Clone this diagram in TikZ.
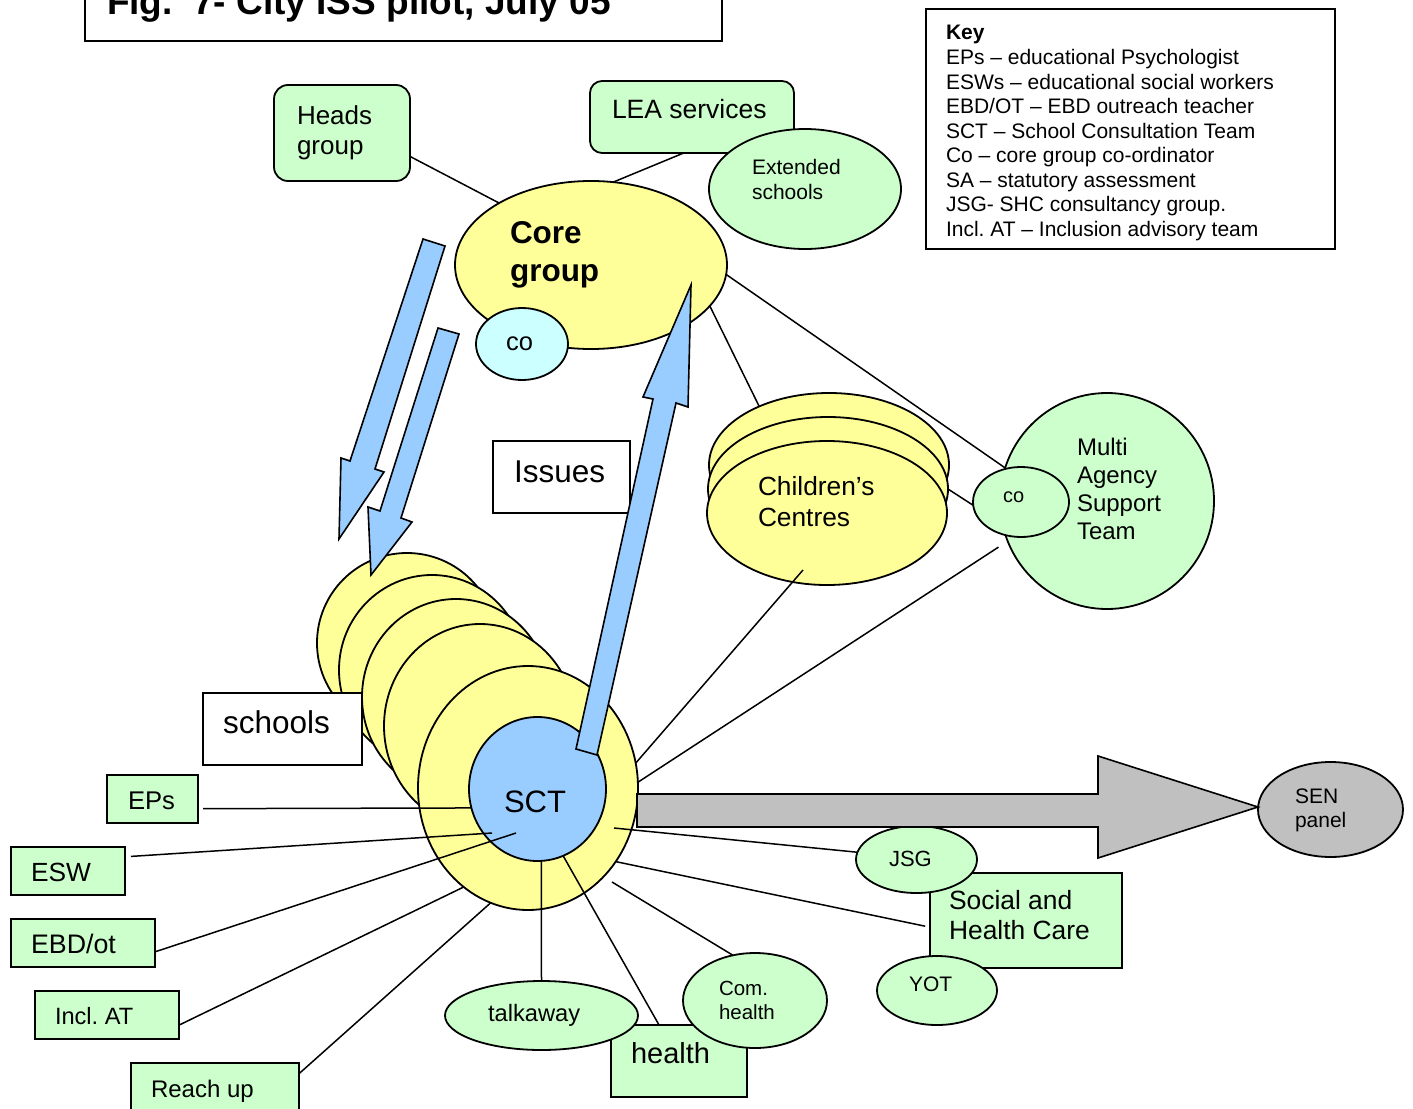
\documentclass[tikz,border=0pt]{standalone}
\usepackage{fontspec}
\setmainfont{Liberation Sans}
\usetikzlibrary{shapes.geometric,calc}

\definecolor{paleyellow}{HTML}{FFFF99}
\definecolor{palegreen}{HTML}{CCFFCC}
\definecolor{paleblue}{HTML}{99CCFF}
\definecolor{palecyan}{HTML}{CCFFFF}
\definecolor{midgray}{HTML}{C0C0C0}

\newcommand\fsz[1]{\fontsize{#1}{#1}\selectfont}
\frenchspacing

\begin{document}
\begin{tikzpicture}[x=1pt,y=-1pt,
  shp/.style={draw=black,line width=1.8pt,inner sep=0pt,outer sep=0pt},
  sz/.style 2 args={minimum width=#1pt,minimum height=#2pt},
  rbox/.style={shp,rectangle,fill=#1},
  rbox/.default=white,
  oval/.style={shp,ellipse,fill=#1},
  lbl/.style={anchor=base west,inner sep=0pt,outer sep=0pt},
  link/.style={line width=1.5pt},
  blockarrow/.style={draw=black,line width=1.6pt,line join=miter,fill=#1}
]
\useasboundingbox (0,0) rectangle (1413,1108);
\clip (0,0) rectangle (1413,1108);

% title and key
\node[shp,rectangle,sz={637}{61}] (titlebox) at (403.5,10.5) {};
\node[rbox,sz={409}{240}] (keybox) at (1130.5,129) {};

% top groups
\node[rbox=palegreen,rounded corners=14pt,sz={136}{96}] (heads) at (342,133) {};
\node[rbox=palegreen,rounded corners=12pt,sz={204}{72}] (lea) at (692,117) {};
\node[oval=palegreen,sz={192}{120}] (ext) at (805,189) {};
\node[oval=paleyellow,sz={272}{168}] (core) at (591,265) {};
\node[oval=palecyan,sz={92}{72}] (coreco) at (522,344) {};

% children's centres and multi agency team
\node[oval=paleyellow,sz={240}{144}] (ccback) at (829,465) {};
\node[oval=paleyellow,sz={240}{144}] (ccmid) at (828,489) {};
\node[oval=paleyellow,sz={240}{144}] (cc) at (827,513) {};
\node[oval=palegreen,sz={214}{216}] (mast) at (1107,501) {};
\node[oval=palegreen,sz={96}{70}] (mastco) at (1021,502) {};

\node[rbox,sz={137}{72}] (issues) at (561.5,477) {};

% stack of schools around the consultation team
\node[oval=paleyellow,sz={180}{180}] (sch1) at (407,643) {};
\node[oval=paleyellow,sz={186}{190}] (sch2) at (432,670) {};
\node[oval=paleyellow,sz={188}{196}] (sch3) at (456,697) {};
\node[oval=paleyellow,sz={192}{204}] (sch4) at (480,726) {};
\node[oval=paleyellow,sz={220}{244}] (sch5) at (528,788) {};
\node[oval=paleblue,sz={137}{144}] (sct) at (537.5,789) {};
\node[rbox,sz={159}{72}] (schools) at (282.5,729) {};

% services on the left
\node[rbox=palegreen,sz={91}{48}] (eps) at (152.5,799) {};
\node[rbox=palegreen,sz={114}{48}] (esw) at (68,871) {};
\node[rbox=palegreen,sz={144}{48}] (ebd) at (83,943) {};
\node[rbox=palegreen,sz={144}{48}] (incl) at (107,1015) {};
\node[rbox=palegreen,sz={168}{48}] (reach) at (215,1087) {};

% services below and to the right
\node[rbox=palegreen,sz={192}{95}] (shc) at (1026,920.5) {};
\node[oval=palegreen,sz={121}{67}] (jsg) at (916.5,859.5) {};
\node[oval=palegreen,sz={120}{69}] (yot) at (937,990.5) {};
\node[rbox=palegreen,sz={136}{72}] (health) at (679,1061) {};
\node[oval=palegreen,sz={193}{69}] (talk) at (541.5,1015.5) {};
\node[oval=palegreen,sz={144}{95}] (comh) at (755,1000.5) {};
\node[oval=midgray,sz={145}{95}] (sen) at (1330.5,809.5) {};

% free ends of links inside shapes
\coordinate (sct-esw) at (492,833);
\coordinate (sct-ebd) at (516,833);
\coordinate (cc-in) at (803,570);
\coordinate (sch-jsg) at (614,828);
\coordinate (sch-comh) at (612,882);

% links
\draw[link] (heads.-19.4) -- (core.146.6);
\draw[link] (lea.-103) -- (core.75);
\draw[link] (core.-4) -- (mast.162);
\draw[link] (core.-19.7) -- (ccback.140);
\draw[link] (cc-in) -- (sch5.13.5);
\draw[link,shorten <=11pt] (mast.202) -- (sch5.3);
\draw[link] (ccmid.0) -- (mastco.184);
\draw[link,shorten <=5pt] (eps.-12) -- (sct.196);
\draw[link,shorten <=6pt] (esw.14) -- (sct-esw);
\draw[link] (ebd.-7) -- (sct-ebd);
\draw[link] (incl.-8) -- (sch5.237);
\draw[link] (reach.9.5) -- (sch5.252.6);
\draw[link] (sct.-87) -- (talk.north);
\draw[link] (sct.-69) -- (health.119);
\draw[link] (sch-comh) -- (comh.116);
\draw[link,shorten >=5pt] (sch5.-40) -- (shc.184);
\draw[link] (sch-jsg) -- (jsg.173);

% block arrows
\draw[blockarrow=paleblue] (423,239) -- (445,246) -- (375,469) -- (384,472)
  -- (339,539) -- (341,458) -- (350,461) -- cycle;
\draw[blockarrow=paleblue] (438,328) -- (459,334) -- (401,518) -- (412,522)
  -- (371,575) -- (368,507) -- (380,511) -- cycle;
\draw[blockarrow=paleblue] (576,749) -- (597,755) -- (676,403) -- (688,407)
  -- (691,285) -- (643,397) -- (653,399) -- cycle;
\draw[blockarrow=midgray] (637,794) -- (1098,794) -- (1098,756) -- (1258,807)
  -- (1098,858) -- (1098,827) -- (637,827) -- cycle;

% texts
\node[lbl,font=\bfseries\fsz{37}] (titleT) at (107,15) {Fig.\ \ 7- City ISS pilot, July 05};
\node[lbl,font=\bfseries\fsz{21}] (key0) at (946,40) {Key};
\foreach \t [count=\i] in {EPs – educational Psychologist,
  ESWs – educational social workers, EBD/OT – EBD outreach teacher,
  SCT – School Consultation Team, Co – core group co-ordinator,
  SA – statutory assessment, JSG- SHC consultancy group.,
  Incl. AT – Inclusion advisory team}
  \node[lbl,font=\fsz{21}] (key\i) at (946,{40+24.5*\i}) {\t};

\node[lbl,font=\fsz{26}] (headsA) at (297,124) {Heads};
\node[lbl,font=\fsz{26}] (headsB) at (297,154) {group};
\node[lbl,font=\fsz{26.5}] (leaT) at (612,118) {LEA services};
\node[lbl,font=\fsz{21}] (extA) at (752,174) {Extended};
\node[lbl,font=\fsz{21}] (extB) at (752,199) {schools};
\node[lbl,font=\bfseries\fsz{31.5}] (coreA) at (510,243) {Core};
\node[lbl,font=\bfseries\fsz{31.5}] (coreB) at (510,281) {group};
\node[lbl,font=\fsz{25.5}] (corecoT) at (506,350) {co};
\node[lbl,font=\fsz{31.5}] (issuesT) at (514,482) {Issues};
\node[lbl,font=\fsz{26.3}] (ccA) at (758,495) {Children’s};
\node[lbl,font=\fsz{26.3}] (ccB) at (758,526) {Centres};
\node[lbl,font=\fsz{24}] (mastA) at (1077,455) {Multi};
\node[lbl,font=\fsz{24}] (mastB) at (1077,483) {Agency};
\node[lbl,font=\fsz{24}] (mastC) at (1077,511) {Support};
\node[lbl,font=\fsz{24}] (mastD) at (1077,539) {Team};
\node[lbl,font=\fsz{20}] (mastcoT) at (1003,502) {co};
\node[lbl,font=\fsz{31.5}] (schoolsT) at (223,733) {schools};
\node[lbl,font=\fsz{31}] (sctT) at (504,812) {SCT};
\node[lbl,font=\fsz{25.6}] (epsT) at (128,809) {EPs};
\node[lbl,font=\fsz{26.3}] (eswT) at (31,881) {ESW};
\node[lbl,font=\fsz{26.8}] (ebdT) at (31,953) {EBD/ot};
\node[lbl,font=\fsz{23.6}] (inclT) at (55,1024) {Incl. AT};
\node[lbl,font=\fsz{24}] (reachT) at (151,1097) {Reach up};
\node[lbl,font=\fsz{23.7}] (talkT) at (488,1021) {talkaway};
\node[lbl,font=\fsz{29}] (healthT) at (631,1063) {health};
\node[lbl,font=\fsz{20.5}] (comhA) at (719,995) {Com.};
\node[lbl,font=\fsz{20.5}] (comhB) at (719,1019) {health};
\node[lbl,font=\fsz{22}] (jsgT) at (889,866) {JSG};
\node[lbl,font=\fsz{26.4}] (shcA) at (949,909) {Social and};
\node[lbl,font=\fsz{26.4}] (shcB) at (949,939) {Health Care};
\node[lbl,font=\fsz{21}] (yotT) at (909,991) {YOT};
\node[lbl,font=\fsz{21}] (senA) at (1295,803) {SEN};
\node[lbl,font=\fsz{21}] (senB) at (1295,827) {panel};
\end{tikzpicture}
\end{document}
